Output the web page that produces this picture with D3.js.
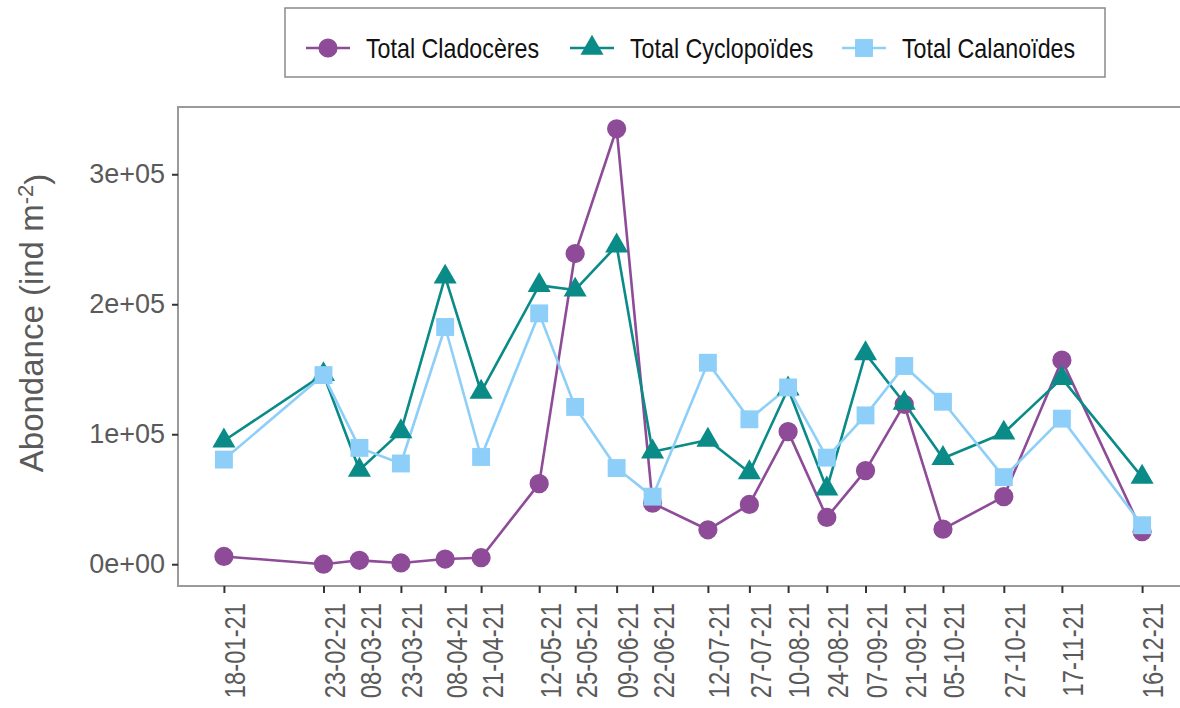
<!DOCTYPE html>
<html>
<head>
<meta charset="utf-8">
<script src="https://cdn.jsdelivr.net/npm/d3@7"></script>
<style>
  html, body { margin: 0; padding: 0; background: #fff; }
  svg { display: block; }
</style>
</head>
<body>
<svg id="chart" width="1180" height="708"></svg>
<script>
// ---- data ----
const dates = ["2021-01-18","2021-02-23","2021-03-08","2021-03-23","2021-04-08","2021-04-21",
  "2021-05-12","2021-05-25","2021-06-09","2021-06-22","2021-07-12","2021-07-27","2021-08-10",
  "2021-08-24","2021-09-07","2021-09-21","2021-10-05","2021-10-27","2021-11-17","2021-12-16"];
const cladoceres  = [6000, 0, 3000, 1000, 4000, 5000, 62000, 239000, 335000, 47000, 26500, 46000, 102000, 36000, 72000, 123000, 27000, 52000, 157000, 25000];
const cyclopoides = [95000, 146000, 72500, 102000, 221000, 132500, 214500, 211000, 245000, 86500, 95500, 70500, 135000, 58000, 162000, 124000, 81500, 101000, 143000, 67000];
const calanoides  = [80500, 145500, 89500, 77500, 182500, 82500, 193000, 121000, 74000, 52000, 155000, 111500, 136000, 82000, 114500, 152500, 125000, 67000, 112000, 30000];
const seriesNames = ["Total Cladocères", "Total Cyclopoïdes", "Total Calanoïdes"];
const yTicks = [0, 100000, 200000, 300000];
const yTitle = "Abondance (ind m";
const yTitleSup = "-2";

// ---- styles ----
const colors = ["#8E4B98", "#0A8B88", "#8DCFF8"];
const symbols = [d3.symbolCircle, d3.symbolTriangle, d3.symbolSquare];
const symSizes = [290, 230, 320];
const sans = "'Liberation Sans', Arial, Helvetica, sans-serif";
const condense = 0.82; // the reference uses a narrow face

const parse = d3.timeParse("%Y-%m-%d");
const dd = dates.map(parse);
const series = [cladoceres, cyclopoides, calanoides].map((vals, i) => ({
  name: seriesNames[i], color: colors[i], symbol: symbols[i], size: symSizes[i],
  points: vals.map((v, j) => ({ date: dd[j], value: v }))
}));

const svg = d3.select("#chart");
svg.append("rect").attr("width", 1180).attr("height", 708).attr("fill", "#fff");

const panel = { left: 178, right: 1188, top: 107, bottom: 586 };

// ggplot-like 5% expansion
const [tMin, tMax] = d3.extent(dd);
const tSpan = tMax - tMin;
const x = d3.scaleTime()
  .domain([new Date(+tMin - 0.05 * tSpan), new Date(+tMax + 0.05 * tSpan)])
  .range([panel.left, panel.right]);
const allVals = cladoceres.concat(cyclopoides, calanoides);
const [vMin, vMax] = d3.extent(allVals);
const vSpan = vMax - vMin;
const y = d3.scaleLinear()
  .domain([vMin - 0.05 * vSpan, vMax + 0.05 * vSpan])
  .range([panel.bottom, panel.top]);

// panel border
svg.append("rect")
  .attr("x", panel.left).attr("y", panel.top)
  .attr("width", panel.right - panel.left).attr("height", panel.bottom - panel.top)
  .attr("fill", "none").attr("stroke", "#9a9a9a").attr("stroke-width", 2);

// y axis
const fmtY = v => {
  if (v === 0) return "0e+00";
  const e = Math.floor(Math.log10(Math.abs(v)));
  const m = Math.round(v / Math.pow(10, e));
  return m + "e+" + String(e).padStart(2, "0");
};
const yAxis = d3.axisLeft(y).tickValues(yTicks).tickFormat(fmtY).tickSize(6).tickPadding(7);
const gy = svg.append("g").attr("transform", `translate(${panel.left},0)`).call(yAxis);
gy.select(".domain").remove();
gy.selectAll(".tick line").attr("stroke", "#333").attr("stroke-width", 2);
gy.selectAll(".tick text").attr("fill", "#5a5a5a").style("font-family", sans).style("font-size", "27px");

// x axis
const xAxis = d3.axisBottom(x).tickValues(dd).tickFormat(d3.timeFormat("%d-%m-%y")).tickSize(7).tickPadding(0);
const gx = svg.append("g").attr("transform", `translate(0,${panel.bottom})`).call(xAxis);
gx.select(".domain").remove();
gx.selectAll(".tick line").attr("stroke", "#333").attr("stroke-width", 2);
gx.selectAll(".tick text")
  .attr("fill", "#5a5a5a")
  .style("font-family", sans).style("font-size", "29px")
  .attr("text-anchor", "end")
  .attr("transform", "translate(0,17) rotate(-90)")
  .attr("x", 0).attr("y", 0).attr("dy", "0.72em")
  .each(function () {
    const L = this.getComputedTextLength();
    d3.select(this).attr("textLength", L * condense).attr("lengthAdjust", "spacingAndGlyphs");
  });

// y title
const yt = svg.append("text")
  .attr("transform", `translate(43,323) rotate(-90)`)
  .attr("text-anchor", "middle")
  .attr("fill", "#5a5a5a")
  .style("font-family", sans).style("font-size", "33px");
yt.append("tspan").text(yTitle);
yt.append("tspan").attr("dy", "-0.45em").style("font-size", "22px").text(yTitleSup);
yt.append("tspan").attr("dy", "0.45em").text(")");

// lines
const line = d3.line().x(d => x(d.date)).y(d => y(d.value));
series.forEach(s => {
  svg.append("path").datum(s.points)
    .attr("d", line).attr("fill", "none")
    .attr("stroke", s.color).attr("stroke-width", 2.6).attr("stroke-linejoin", "round");
});
// points
series.forEach(s => {
  svg.append("g").selectAll("path").data(s.points).join("path")
    .attr("transform", d => `translate(${x(d.date)},${y(d.value)})`)
    .attr("d", d3.symbol().type(s.symbol).size(s.size))
    .attr("fill", s.color);
});

// legend
const lg = svg.append("g");
lg.append("rect").attr("x", 285).attr("y", 8).attr("width", 820).attr("height", 69)
  .attr("fill", "#fff").attr("stroke", "#8a8a8a").attr("stroke-width", 1.5);
const keyX = [328, 592, 864];
series.forEach((s, i) => {
  const g = lg.append("g").attr("transform", `translate(${keyX[i]},48)`);
  g.append("line").attr("x1", -22).attr("x2", 22).attr("stroke", s.color).attr("stroke-width", 2.6);
  g.append("path").attr("d", d3.symbol().type(s.symbol).size(s.size)()).attr("fill", s.color);
  const t = g.append("text").attr("x", 38).attr("y", 0).attr("dy", "0.36em")
    .attr("fill", "#111").style("font-family", sans).style("font-size", "28px")
    .text(s.name);
  const L = t.node().getComputedTextLength();
  t.attr("textLength", L * 0.83).attr("lengthAdjust", "spacingAndGlyphs");
});
</script>
</body>
</html>
